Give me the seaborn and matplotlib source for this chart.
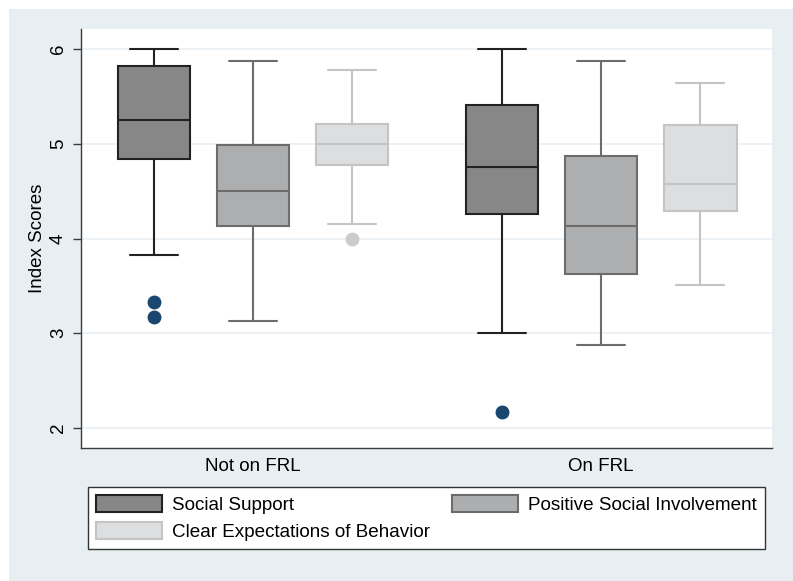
"""Box plots of school climate index scores by free/reduced lunch status."""

import matplotlib

matplotlib.use("Agg")

import matplotlib.pyplot as plt
import pandas as pd
import seaborn as sns
from matplotlib.patches import Patch, Rectangle

GROUPS = ["Not on FRL", "On FRL"]
INDICES = ["Social Support", "Positive Social Involvement", "Clear Expectations of Behavior"]

# Box summaries: one row per index, one value per group
lower_whisker = [[3.83, 3.00], [3.13, 2.88], [4.15, 3.51]]
q1 = [[4.84, 4.26], [4.13, 3.63], [4.78, 4.29]]
median = [[5.25, 4.75], [4.50, 4.13], [5.00, 4.58]]
q3 = [[5.82, 5.41], [4.99, 4.87], [5.21, 5.20]]
upper_whisker = [[6.00, 6.00], [5.87, 5.87], [5.78, 5.64]]
outliers = [[[3.33, 3.17], [2.17]], [[], []], [[4.00], []]]

FILL = {INDICES[0]: "#878787", INDICES[1]: "#adaeaf", INDICES[2]: "#dddee0"}
EDGE = {INDICES[0]: "#222222", INDICES[1]: "#6c6c6c", INDICES[2]: "#c4c4c4"}
FLIER = {INDICES[0]: "#1a476f", INDICES[1]: "#6c6c6c", INDICES[2]: "#cccccc"}
BG = "#e8eff2"

# rebuild a sample per box that reproduces the summary exactly
rows = []
for i, name in enumerate(INDICES):
    for j, group in enumerate(GROUPS):
        core = [lower_whisker[i][j], q1[i][j], median[i][j], q3[i][j], upper_whisker[i][j]]
        values = [v for v in core for _ in range(20)] + outliers[i][j]
        rows += [(group, name, v) for v in values]
df = pd.DataFrame(rows, columns=["group", "index", "score"])

sns.set_theme(style="white")
plt.rcParams["font.family"] = ["Liberation Sans", "DejaVu Sans"]
plt.rcParams["text.color"] = "black"
plt.rcParams["axes.labelcolor"] = "black"
plt.rcParams["xtick.labelcolor"] = "black"
plt.rcParams["ytick.labelcolor"] = "black"

fig = plt.figure(figsize=(7.93, 5.81), dpi=100)
fig.patches.append(Rectangle((9 / 793, 0), 1, 1 - 9 / 581, transform=fig.transFigure,
                             facecolor=BG, edgecolor="none", zorder=-10))
ax = fig.add_axes([81 / 793, 1 - 448 / 581, 691 / 793, 419 / 581])
ax.set_facecolor("white")

for name in INDICES:
    sns.boxplot(
        data=df[df["index"] == name], x="group", y="score", hue="index",
        order=GROUPS, hue_order=INDICES, palette=FILL, saturation=1,
        dodge=True, width=0.855, gap=0.27, linecolor=EDGE[name], linewidth=1.5,
        flierprops=dict(marker="o", markerfacecolor=FLIER[name],
                        markeredgecolor=FLIER[name], markersize=9),
        capwidths=0.139, legend=False, ax=ax,
    )

ax.set_xlim(-0.494, 1.491)
ax.set_ylim(1.79, 6.21)
ax.set_yticks([2, 3, 4, 5, 6])
ax.yaxis.grid(True, color="#e8eff2", linewidth=1.2)
ax.set_axisbelow(True)
for side in ["top", "right"]:
    ax.spines[side].set_visible(False)
for side in ["left", "bottom"]:
    ax.spines[side].set_color("#3a3a3a")
    ax.spines[side].set_linewidth(1.0)

ax.tick_params(axis="y", labelrotation=90, length=6, width=1, color="#3a3a3a",
               labelsize=13.5, pad=4, left=True)
ax.tick_params(axis="x", length=0, labelsize=13.5, pad=7)
for lab in ax.get_yticklabels():
    lab.set_va("center")
ax.set_xlabel("")
ax.set_ylabel("Index Scores", fontsize=13.5, labelpad=3)

order = [INDICES[0], INDICES[2], INDICES[1]]
handles = [Patch(facecolor=FILL[n], edgecolor=EDGE[n], linewidth=1.5, label=n) for n in order]
leg = fig.legend(
    handles=handles, ncol=2, loc="upper left",
    bbox_to_anchor=(88 / 793, 1 - 488 / 581, 677 / 793, 0.001), mode="expand",
    fontsize=13.6, frameon=True, fancybox=False, edgecolor="#333333", framealpha=1,
    handlelength=3.5, handleheight=1.0, handletextpad=0.55,
    columnspacing=1.35, labelspacing=0.42, borderpad=0.42, borderaxespad=0,
)
leg.get_frame().set_linewidth(1.0)
leg.get_frame().set_facecolor("white")

fig.savefig("out.png", dpi=100)
